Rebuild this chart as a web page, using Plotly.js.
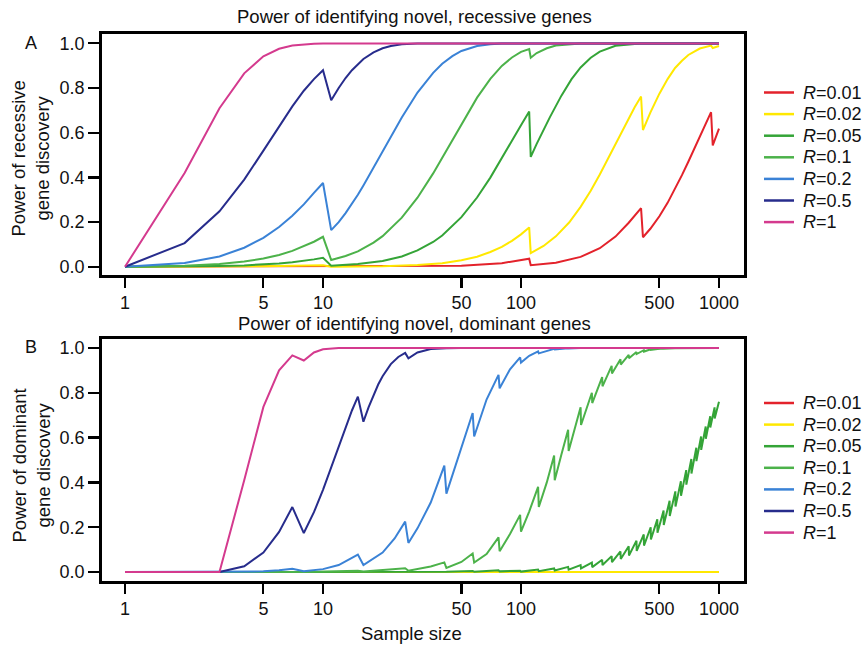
<!DOCTYPE html>
<html>
<head>
<meta charset="utf-8">
<script src="https://cdn.plot.ly/plotly-3.0.1.min.js"></script>
<style>html,body{margin:0;padding:0;background:#fff;}#chart{width:864px;height:646px;}</style>
</head>
<body>
<div id="chart"></div>
<script>
// ---------- data ----------
const seriesNames = ['<i>R</i>=0.01','<i>R</i>=0.02','<i>R</i>=0.05','<i>R</i>=0.1','<i>R</i>=0.2','<i>R</i>=0.5','<i>R</i>=1'];
const seriesColors = ['#e3222b','#ffe800','#34a437','#4cb24a','#3a82d6','#272c8c','#d43a8e'];

const xTickVals = [1,5,10,50,100,500,1000];
const xTickText = ['1','5','10','50','100','500','1000'];
const yTickVals = [0,0.2,0.4,0.6,0.8,1];
const yTickText = ['0.0','0.2','0.4','0.6','0.8','1.0'];

// Panel A: recessive genes
const recN_R001 = [1,10,11,50,80,100,110,112,150,200,250,300,350,404,413,450,500,550,600,650,700,750,800,850,912,930,1000];
const recP_R001 = [0,0.002,0.0001,0.0045,0.016,0.029,0.036,0.007,0.018,0.044,0.083,0.135,0.197,0.262,0.132,0.170,0.226,0.286,0.348,0.410,0.470,0.528,0.585,0.636,0.692,0.543,0.618];

const recN_R002 = [1,5,10,11,20,30,40,50,60,70,80,90,100,110,112,130,150,175,200,225,250,275,300,325,350,375,404,413,450,500,550,600,650,700,750,800,912,930,1000];
const recP_R002 = [0,0.002,0.007,0.0004,0.0025,0.0075,0.016,0.029,0.045,0.066,0.089,0.116,0.145,0.176,0.061,0.093,0.136,0.198,0.268,0.340,0.413,0.484,0.552,0.612,0.666,0.714,0.762,0.612,0.690,0.775,0.840,0.890,0.922,0.948,0.963,0.977,0.990,0.979,0.988];

const recN_R005 = [1,2,3,4,5,6,7,8,9,10,11,15,20,25,30,36,40,50,60,70,80,90,100,110,112,120,140,160,180,200,225,250,300,400,1000];
const recP_R005 = [0,0.001,0.003,0.006,0.010,0.015,0.020,0.026,0.033,0.040,0.005,0.012,0.026,0.046,0.073,0.111,0.140,0.222,0.310,0.399,0.484,0.564,0.634,0.695,0.492,0.550,0.670,0.766,0.840,0.892,0.936,0.963,0.989,0.999,1];

const recN_R01 = [1,2,3,4,5,6,7,8,9,10,11,13,15,18,20,25,30,36,40,45,50,55,60,70,80,90,100,110,112,120,135,150,200,1000];
const recP_R01 = [0,0.004,0.012,0.023,0.037,0.053,0.071,0.091,0.112,0.134,0.030,0.048,0.069,0.108,0.137,0.220,0.309,0.418,0.487,0.567,0.639,0.702,0.757,0.841,0.899,0.937,0.962,0.975,0.936,0.957,0.978,0.990,0.9995,1];

const recN_R02 = [1,2,3,4,5,6,7,8,9,10,11,12,13,14,15,16,18,20,25,30,36,40,45,50,60,70,80,100,1000];
const recP_R02 = [0,0.017,0.046,0.085,0.129,0.178,0.228,0.279,0.331,0.375,0.164,0.200,0.240,0.280,0.322,0.364,0.445,0.520,0.668,0.780,0.868,0.909,0.943,0.966,0.988,0.996,0.999,1,1];

const recN_R05 = [1,2,3,4,5,6,7,8,9,10,11,12,13,14,15,16,18,20,22,25,30,1000];
const recP_R05 = [0,0.106,0.248,0.390,0.520,0.630,0.718,0.788,0.840,0.880,0.745,0.800,0.845,0.880,0.908,0.930,0.960,0.978,0.988,0.996,0.999,1];

const recN_R1 = [1,2,3,4,5,6,7,8,9,10,11,12,15,20,1000];
const recP_R1 = [0,0.42,0.710,0.866,0.942,0.976,0.990,0.995,0.998,0.999,0.998,1,1,1,1];

// Panel B: dominant genes
const domN_R001 = [1,1000];
const domP_R001 = [0,0];

const domN_R002 = [1,1000];
const domP_R002 = [0,0];

const domN_R005 = [1,3,41,42,57,58,77,78,99,100,122,123,147,148,173,174,200,201,228,229,257,258,287,288,318,319,350,351,383,384,417,418,452,453,488,489,525,526,563,564,602,603,642,643,683,684,725,726,768,769,812,813,857,858,903,904,950,951,1000];
const domP_R005 = [0,0,0.003,0.001,0.005,0.0015,0.008,0.003,0.006,0.002,0.011,0.004,0.016,0.007,0.023,0.011,0.031,0.016,0.042,0.022,0.055,0.031,0.071,0.044,0.092,0.058,0.115,0.074,0.140,0.094,0.168,0.118,0.200,0.145,0.235,0.175,0.275,0.210,0.318,0.250,0.360,0.292,0.405,0.340,0.455,0.390,0.505,0.440,0.555,0.495,0.605,0.545,0.650,0.595,0.695,0.645,0.735,0.685,0.760];

const domN_R01 = [1,3,4,7,8,15,16,26,27,35,41,42,50,57,58,67,77,78,88,99,100,110,122,123,135,147,148,160,173,174,187,200,201,215,228,229,243,257,258,287,288,318,319,350,351,383,384,417,418,452,453,488,489,525,526,600,1000];
const domP_R01 = [0,0,0,0.001,0.0002,0.006,0.002,0.017,0.006,0.025,0.043,0.018,0.045,0.083,0.042,0.080,0.155,0.093,0.170,0.255,0.180,0.270,0.380,0.290,0.400,0.520,0.410,0.525,0.635,0.540,0.645,0.735,0.656,0.730,0.800,0.754,0.815,0.870,0.829,0.920,0.886,0.950,0.926,0.969,0.954,0.982,0.973,0.990,0.984,0.9945,0.991,0.997,0.995,0.998,0.997,0.999,1];

const domN_R02 = [1,3,4,5,6,7,8,10,12,15,16,20,23,26,27,30,35,41,42,50,57,58,67,77,78,88,99,100,110,122,123,147,148,173,174,200,1000];
const domP_R02 = [0,0,0.0007,0.003,0.0075,0.015,0.004,0.013,0.031,0.078,0.031,0.087,0.150,0.225,0.130,0.195,0.310,0.475,0.350,0.560,0.710,0.605,0.770,0.880,0.820,0.905,0.958,0.935,0.965,0.985,0.976,0.996,0.993,0.999,0.998,1,1];

const domN_R05 = [1,3,4,5,6,7,8,9,10,11,12,13,14,15,16,17,18,19,20,22,24,26,27,30,35,41,42,50,1000];
const domP_R05 = [0,0,0.026,0.087,0.179,0.290,0.174,0.267,0.367,0.467,0.562,0.647,0.721,0.783,0.671,0.736,0.791,0.837,0.874,0.928,0.960,0.978,0.954,0.980,0.995,0.9993,0.999,1,1];

const domN_R1 = [1,3,4,5,6,7,8,9,10,11,12,1000];
const domP_R1 = [0,0,0.41,0.737,0.900,0.967,0.944,0.980,0.994,0.998,1,1];

// ---------- build traces ----------
const recX = [recN_R001,recN_R002,recN_R005,recN_R01,recN_R02,recN_R05,recN_R1];
const recY = [recP_R001,recP_R002,recP_R005,recP_R01,recP_R02,recP_R05,recP_R1];
const domX = [domN_R001,domN_R002,domN_R005,domN_R01,domN_R02,domN_R05,domN_R1];
const domY = [domP_R001,domP_R002,domP_R005,domP_R01,domP_R02,domP_R05,domP_R1];

const traces = [];
for (let i = 0; i < seriesNames.length; i++) {
  traces.push({x: recX[i], y: recY[i], type: 'scatter', mode: 'lines', name: seriesNames[i],
    line: {color: seriesColors[i], width: 2}, xaxis: 'x', yaxis: 'y', showlegend: false});
}
for (let i = 0; i < seriesNames.length; i++) {
  traces.push({x: domX[i], y: domY[i], type: 'scatter', mode: 'lines', name: seriesNames[i],
    line: {color: seriesColors[i], width: 2}, xaxis: 'x2', yaxis: 'y2', showlegend: false});
}

const FONT = 'Liberation Sans, Arial, Helvetica, sans-serif';
const axisCommon = {
  showline: true, mirror: true, linecolor: '#000', linewidth: 2.8,
  ticks: 'outside', tickcolor: '#000', tickwidth: 2.2,
  showgrid: false, zeroline: false,
  tickfont: {family: FONT, size: 18, color: '#111'}
};
const xCommon = Object.assign({}, axisCommon, {
  type: 'log', range: [-0.1162, 3.1263], tickmode: 'array', tickvals: xTickVals, ticktext: xTickText, ticklen: 10
});
const yCommon = Object.assign({}, axisCommon, {
  tickmode: 'array', tickvals: yTickVals, ticktext: yTickText, ticklen: 11
});

function px2x(px) { return (px - 102) / 642; }
function py2y(py) { return (581 - py) / 547; }

const annFont = {family: FONT, size: 18, color: '#111'};
const titleFont = {family: FONT, size: 18.5, color: '#111'};

const annotations = [
  {text: 'Power of identifying novel, recessive genes', x: px2x(414), y: py2y(17), xanchor: 'center', big: true},
  {text: 'Power of identifying novel, dominant genes', x: px2x(414), y: py2y(323), xanchor: 'center', big: true},
  {text: 'Sample size', x: px2x(411), y: py2y(633), xanchor: 'center', big: true},
  {text: 'A', x: px2x(31), y: py2y(43), xanchor: 'center'},
  {text: 'B', x: px2x(31), y: py2y(347), xanchor: 'center'},
  {text: 'Power of recessive<br>gene discovery', x: px2x(30.5), y: py2y(159), xanchor: 'center', textangle: -90, big: true},
  {text: 'Power of dominant<br>gene discovery', x: px2x(30.5), y: py2y(466), xanchor: 'center', textangle: -90, big: true}
];
const shapes = [];

// legends (one per panel), built from the series names and colours
const legendTopA = 92.5, legendTopB = 403, legendStep = 21.6;
for (let i = 0; i < seriesNames.length; i++) {
  [legendTopA, legendTopB].forEach(function (top) {
    const cy = top + i * legendStep;
    shapes.push({type: 'line', xref: 'paper', yref: 'paper', x0: px2x(764), x1: px2x(794), y0: py2y(cy), y1: py2y(cy),
      line: {color: seriesColors[i], width: 2.5}});
    annotations.push({text: seriesNames[i], x: px2x(801), y: py2y(cy), xanchor: 'left'});
  });
}
annotations.forEach(function (a) {
  a.xref = 'paper'; a.yref = 'paper'; a.showarrow = false; a.yanchor = 'middle';
  a.font = a.big ? titleFont : annFont;
  delete a.big;
});

const layout = {
  width: 864, height: 646,
  margin: {l: 102, r: 120, t: 34, b: 65},
  paper_bgcolor: '#fff', plot_bgcolor: '#fff',
  showlegend: false,
  xaxis: Object.assign({}, xCommon, {anchor: 'y', domain: [0, 1]}),
  yaxis: Object.assign({}, yCommon, {anchor: 'x', domain: [0.5594, 1], range: [-0.037, 1.042]}),
  xaxis2: Object.assign({}, xCommon, {anchor: 'y2', domain: [0, 1]}),
  yaxis2: Object.assign({}, yCommon, {anchor: 'x2', domain: [0, 0.4424], range: [-0.040, 1.040]}),
  annotations: annotations,
  shapes: shapes
};

Plotly.newPlot('chart', traces, layout, {displayModeBar: false, staticPlot: true});
</script>
</body>
</html>
